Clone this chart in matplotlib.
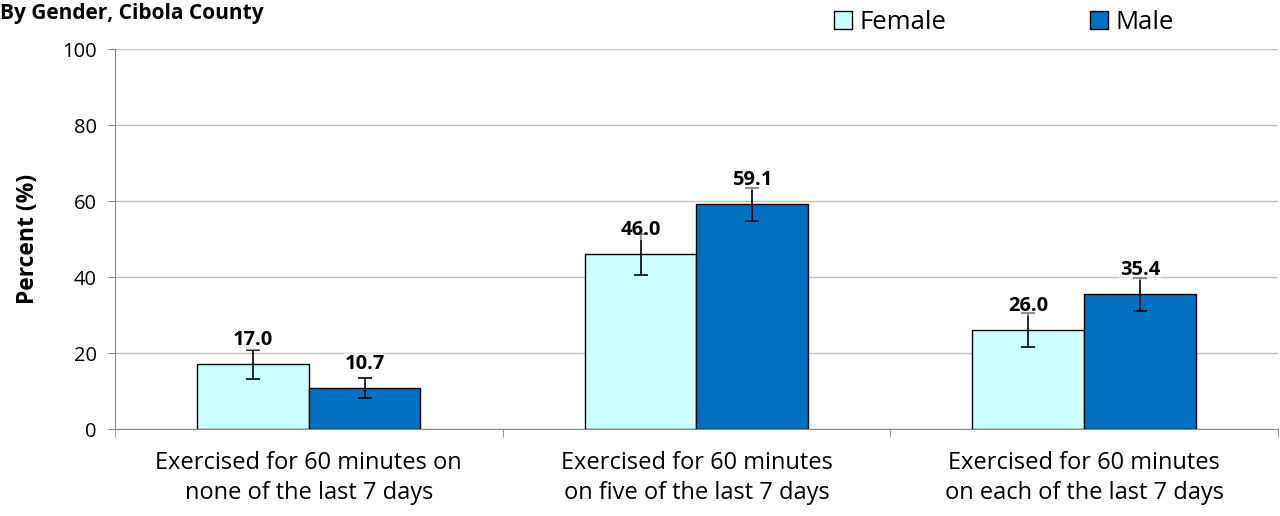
import matplotlib
matplotlib.use("Agg")
import matplotlib.pyplot as plt
import numpy as np

categories = ["Exercised for 60 minutes on\nnone of the last 7 days",
              "Exercised for 60 minutes\non five of the last 7 days",
              "Exercised for 60 minutes\non each of the last 7 days"]
female = [17.0, 46.0, 26.0]
male = [10.7, 59.1, 35.4]
female_lo = [13.2, 40.5, 21.6]
female_hi = [20.8, 51.3, 30.6]
male_lo = [8.2, 54.7, 31.0]
male_hi = [13.5, 63.5, 39.8]
series_names = ["Female", "Male"]
colors = ["#CCFFFF", "#0070C0"]

plt.rcParams['font.family'] = ['Open Sans', 'DejaVu Sans']

fig = plt.figure(figsize=(12.8, 5.16), dpi=100)
ax = fig.add_axes([0.0898, 0.1686, 0.9086, 0.7364])

x = np.arange(len(categories))
w = 0.288
data = [(female, female_lo, female_hi), (male, male_lo, male_hi)]
for i, (vals, lo, hi) in enumerate(data):
    pos = x + (i - 0.5) * w
    vals = np.array(vals)
    err = np.vstack([vals - np.array(lo), np.array(hi) - vals])
    ax.bar(pos, vals, width=w, color=colors[i], edgecolor="black", linewidth=1.0,
           label=series_names[i], zorder=2)
    ax.errorbar(pos, vals, yerr=err, fmt='none', ecolor='black', elinewidth=1.2,
                capsize=5, capthick=1.2, zorder=3)
    for p, v in zip(pos, vals):
        ax.text(p, v + 6.5, f"{v:.1f}", ha='center', va='center', fontsize=14.5,
                fontweight='bold', zorder=4,
                bbox=dict(facecolor='white', edgecolor='none', alpha=0.5, pad=0.3))

ax.set_xlim(-0.5, 2.5)
ax.set_ylim(0, 100)
ax.set_yticks([0, 20, 40, 60, 80, 100])
ax.tick_params(axis='y', labelsize=14.5, length=5, color='#888888', pad=8)
ax.yaxis.grid(True, color='#BFBFBF', linewidth=1.0, zorder=0)
ax.set_axisbelow(True)

ax.set_xticks(x)
ax.set_xticklabels(categories, fontsize=17, linespacing=1.3)
ax.tick_params(axis='x', length=0, pad=16)
ax.set_xticks([-0.5, 0.5, 1.5, 2.5], minor=True)
ax.tick_params(axis='x', which='minor', length=6, color='#888888')

for s in ['top', 'right']:
    ax.spines[s].set_visible(False)
for s in ['left', 'bottom']:
    ax.spines[s].set_color('#888888')

ax.set_ylabel("Percent (%)", fontsize=16.5, fontweight='bold', labelpad=16)

fig.text(0.0, 0.994, "By Gender, Cibola County", fontsize=15, fontweight='bold',
         ha='left', va='top')

for name, c, xa in zip(series_names, colors, [0.6516, 0.8516]):
    h = plt.Rectangle((0, 0), 1, 1, facecolor=c, edgecolor='black')
    lg = fig.legend([h], [name], loc='center left', bbox_to_anchor=(xa, 0.956),
                    frameon=False, fontsize=18.5, handlelength=0.7, handleheight=0.7,
                    handletextpad=0.3, borderpad=0, borderaxespad=0)

fig.savefig("out.png", dpi=100)
